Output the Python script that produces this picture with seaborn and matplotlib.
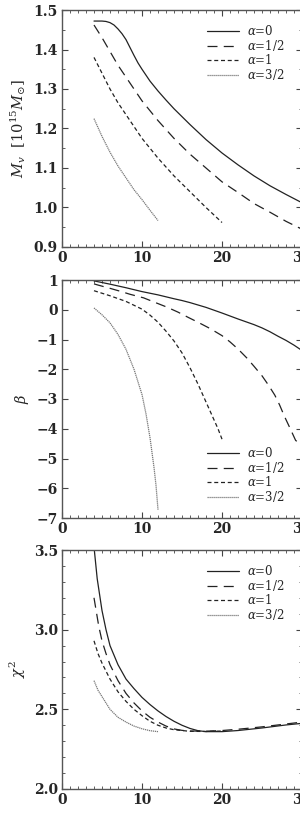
import numpy as np
import pandas as pd
import seaborn as sns
import matplotlib
matplotlib.use("Agg")
import matplotlib.pyplot as plt
from matplotlib.ticker import MultipleLocator, FormatStrFormatter

# ---------------- data ----------------
labels = [r"$\alpha$=0", r"$\alpha$=1/2", r"$\alpha$=1", r"$\alpha$=3/2"]

# Panel 1: M_v [10^15 M_sun]
m_x0 = [4, 5, 5.5, 6, 6.5, 7, 7.5, 8, 8.5, 9, 9.5, 10, 11, 12, 13, 14, 16, 18, 20,
        22, 24, 26, 28, 30]
m_y0 = [1.472, 1.472, 1.471, 1.468, 1.462, 1.452, 1.44, 1.425, 1.405, 1.385,
        1.366, 1.35, 1.32, 1.295, 1.272, 1.25, 1.21, 1.172, 1.138, 1.108, 1.08,
        1.055, 1.033, 1.012]
m_x1 = [4, 5, 6, 7, 8, 9, 10, 12, 14, 16, 18, 20, 22, 24, 26, 28, 30]
m_y1 = [1.462, 1.43, 1.395, 1.36, 1.33, 1.30, 1.27, 1.22, 1.175, 1.135, 1.10,
        1.065, 1.038, 1.01, 0.988, 0.965, 0.945]
m_x2 = [4, 5, 6, 7, 8, 9, 10, 12, 14, 16, 18, 20]
m_y2 = [1.38, 1.34, 1.30, 1.265, 1.235, 1.205, 1.175, 1.125, 1.08, 1.04, 1.0, 0.962]
m_x3 = [4, 5, 6, 7, 8, 9, 10, 11, 12]
m_y3 = [1.225, 1.18, 1.14, 1.105, 1.075, 1.045, 1.02, 0.993, 0.967]

# Panel 2: beta
b_x0 = [4, 6, 8, 10, 12, 14, 15, 16, 18, 20, 22, 24, 25, 26, 27, 28, 29, 30]
b_y0 = [0.97, 0.86, 0.74, 0.61, 0.5, 0.37, 0.31, 0.24, 0.08, -0.11, -0.31, -0.5,
        -0.61, -0.74, -0.89, -1.03, -1.19, -1.37]
b_x1 = [4, 4.5, 6, 7.3, 8.5, 10.2, 11.5, 13.1, 14.5, 15.8, 17, 18.5, 20, 21, 22,
        23.1, 24, 25, 25.8, 26.6, 27.2, 27.8, 28.5, 29.2, 29.6, 30]
b_y1 = [0.87, 0.83, 0.72, 0.62, 0.52, 0.40, 0.26, 0.09, -0.08, -0.26, -0.42, -0.63,
        -0.87, -1.08, -1.32, -1.62, -1.9, -2.22, -2.53, -2.87, -3.2, -3.58, -3.98,
        -4.39, -4.48, -4.58]
b_x2 = [4, 6, 8, 10, 11, 12, 13, 14, 15, 16, 17, 18, 19, 19.5, 20]
b_y2 = [0.64, 0.47, 0.28, 0.02, -0.18, -0.42, -0.72, -1.05, -1.45, -1.95, -2.5,
        -3.1, -3.7, -4.0, -4.35]
b_x3 = [4, 5, 6, 7, 8, 9, 10, 10.5, 11, 11.5, 11.75, 12]
b_y3 = [0.06, -0.17, -0.44, -0.83, -1.33, -2.0, -2.85, -3.5, -4.3, -5.3, -5.9,
        -6.72]

# Panel 3: chi^2
c_x0 = [4, 4.4, 5, 5.5, 6, 7, 8, 9, 10, 11, 12, 13, 14, 15, 16, 17, 18, 20, 22,
        25, 28, 30]
c_y0 = [3.52, 3.32, 3.12, 3.0, 2.9, 2.78, 2.69, 2.63, 2.575, 2.53, 2.49, 2.455,
        2.425, 2.40, 2.38, 2.366, 2.36, 2.36, 2.367, 2.383, 2.402, 2.412]
c_x1 = [4, 4.6, 5, 5.5, 6, 7, 8, 9, 10, 11, 12, 13, 14, 15, 16, 18, 20, 22, 25,
        28, 30]
c_y1 = [3.20, 3.02, 2.93, 2.85, 2.78, 2.68, 2.60, 2.54, 2.49, 2.45, 2.42, 2.395,
        2.377, 2.368, 2.364, 2.363, 2.367, 2.375, 2.39, 2.408, 2.42]
c_x2 = [4, 4.5, 5, 6, 7, 8, 9, 10, 11, 12, 13, 14, 16, 18, 20]
c_y2 = [2.93, 2.85, 2.79, 2.69, 2.61, 2.55, 2.50, 2.46, 2.425, 2.40, 2.383, 2.372,
        2.362, 2.361, 2.364]
c_x3 = [4, 4.5, 5, 6, 7, 8, 9, 10, 11, 12]
c_y3 = [2.68, 2.62, 2.58, 2.50, 2.45, 2.42, 2.395, 2.378, 2.366, 2.36]

panels = [
    dict(xs=[m_x0, m_x1, m_x2, m_x3], ys=[m_y0, m_y1, m_y2, m_y3],
         ylim=(0.9, 1.5), major=0.1, minor=0.05, fmt="%.1f",
         ylabel=r"$M_v$  [$10^{15}M_{\odot}$]", loc="upper right"),
    dict(xs=[b_x0, b_x1, b_x2, b_x3], ys=[b_y0, b_y1, b_y2, b_y3],
         ylim=(-7, 1), major=1, minor=1, fmt="%d",
         ylabel=r"$\beta$", loc="lower right"),
    dict(xs=[c_x0, c_x1, c_x2, c_x3], ys=[c_y0, c_y1, c_y2, c_y3],
         ylim=(2.0, 3.5), major=0.5, minor=0.1, fmt="%.1f",
         ylabel=r"$\chi^2$", loc="upper right"),
]

# ---------------- style ----------------
sns.set_style("ticks")
plt.rcParams["font.family"] = ["DejaVu Serif"]
plt.rcParams["mathtext.fontset"] = "dejavuserif"
plt.rcParams["axes.linewidth"] = 1.0
plt.rcParams["lines.solid_joinstyle"] = "round"
plt.rcParams["lines.dash_joinstyle"] = "round"

styles = [
    dict(color="#222222", linestyle="-", linewidth=0.9),
    dict(color="#222222", linestyle=(0, (8, 5)), linewidth=0.9),
    dict(color="#222222", linestyle=(0, (3.2, 2.2)), linewidth=0.9),
    dict(color="#777777", linestyle=(0, (1, 0.6)), linewidth=0.9),
]

fig = plt.figure(figsize=(3.0, 8.14), dpi=100)
W, H = 300.0, 814.0
boxes = [(10, 247), (280, 518), (550, 789)]
left_px, right_px = 62, 302

for p, (top, bot) in zip(panels, boxes):
    ax = fig.add_axes([left_px / W, 1 - bot / H, (right_px - left_px) / W, (bot - top) / H])
    handles = []
    for x, y, st in zip(p["xs"], p["ys"], styles):
        df = pd.DataFrame({"x": x, "y": y})
        sns.lineplot(data=df, x="x", y="y", ax=ax, sort=False, estimator=None, **st)
        handles.append(ax.lines[-1])
    ax.set_xlim(0, 30)
    ax.set_ylim(*p["ylim"])
    ax.xaxis.set_major_locator(MultipleLocator(10))
    ax.xaxis.set_minor_locator(MultipleLocator(1))
    ax.yaxis.set_major_locator(MultipleLocator(p["major"]))
    ax.yaxis.set_minor_locator(MultipleLocator(p["minor"]))
    ax.yaxis.set_major_formatter(FormatStrFormatter(p["fmt"]))
    ax.tick_params(which="both", direction="in", top=True, right=True, color="#444444")
    ax.tick_params(which="major", length=4.5, width=0.8, labelsize=10, pad=3)
    ax.tick_params(which="minor", length=2.5, width=0.6)
    for s in ax.spines.values():
        s.set_color("#555555")
    if p["fmt"] == "%d":
        ticks = ax.get_yticks()
        ax.set_yticks(ticks)
        ax.set_yticklabels([("\u2212%d" % -v if v < 0 else "%d" % v) for v in ticks])
        ax.set_ylim(*p["ylim"])
    for lab in ax.get_xticklabels() + ax.get_yticklabels():
        lab.set_fontweight("bold")
    ax.set_xlabel("")
    ax.set_ylabel(p["ylabel"], fontsize=10.5, labelpad=4)
    if p["loc"] == "upper right":
        bba = (0.985, 1.0)
    else:
        bba = (0.985, 0.0)
    ax.legend(handles, labels, loc=p["loc"], bbox_to_anchor=bba, frameon=False,
              fontsize=8.5, handlelength=2.7, handletextpad=0.7, labelspacing=0.0,
              borderpad=0.4, borderaxespad=0.8)

fig.savefig("out.png", dpi=100)
